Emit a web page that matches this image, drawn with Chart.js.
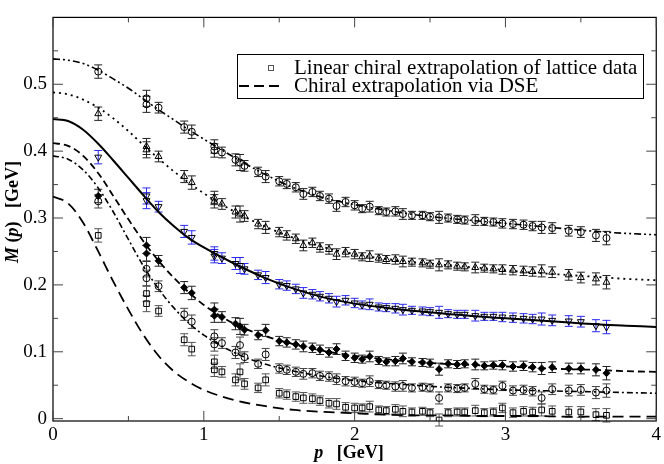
<!DOCTYPE html>
<html>
<head>
<meta charset="utf-8">
<script src="https://cdn.jsdelivr.net/npm/chart.js@4.4.0/dist/chart.umd.min.js"></script>
<style>
  html, body { margin: 0; padding: 0; background: #fff; }
  #wrap { width: 664px; height: 464px; }
</style>
</head>
<body>
<div id="wrap"><canvas id="c" width="664" height="464"></canvas></div>
<script>
// lattice momenta (GeV) shared by all six data sets
const pLat = [0.30, 0.62, 0.62, 0.70, 0.87, 0.92, 1.07, 1.07, 1.12, 1.21,
              1.24, 1.27, 1.36, 1.41, 1.50, 1.55, 1.61, 1.66, 1.72, 1.77,
              1.83, 1.88, 1.94, 2.00, 2.05, 2.10, 2.16, 2.21, 2.27, 2.32,
              2.38, 2.45, 2.50, 2.56, 2.62, 2.68, 2.73, 2.80, 2.86, 2.92,
              2.98, 3.05, 3.12, 3.18, 3.24, 3.31, 3.42, 3.50, 3.60, 3.67];
const errLat = [0.010, 0.012, 0.012, 0.008, 0.009, 0.010, 0.010, 0.010, 0.008, 0.009,
                0.012, 0.008, 0.007, 0.009, 0.007, 0.007, 0.007, 0.008, 0.007, 0.007,
                0.007, 0.008, 0.007, 0.007, 0.006, 0.008, 0.006, 0.006, 0.007, 0.008,
                0.006, 0.006, 0.006, 0.009, 0.006, 0.006, 0.006, 0.008, 0.006, 0.006,
                0.007, 0.007, 0.007, 0.007, 0.009, 0.008, 0.008, 0.008, 0.009, 0.010];

// M(p) lattice points, heaviest mass on top
const latA = [0.519, 0.479, 0.470, 0.465, 0.436, 0.429, 0.407, 0.401, 0.398, 0.387,
              0.383, 0.378, 0.369, 0.362, 0.355, 0.351, 0.346, 0.336, 0.339, 0.333,
              0.329, 0.318, 0.324, 0.319, 0.314, 0.317, 0.311, 0.309, 0.310, 0.306,
              0.304, 0.304, 0.302, 0.301, 0.300, 0.298, 0.297, 0.297, 0.295, 0.294,
              0.292, 0.291, 0.290, 0.288, 0.286, 0.285, 0.281, 0.279, 0.274, 0.270];
const latB = [0.456, 0.407, 0.402, 0.392, 0.362, 0.353, 0.330, 0.325, 0.321, 0.309,
              0.306, 0.303, 0.291, 0.286, 0.279, 0.274, 0.269, 0.259, 0.263, 0.256,
              0.253, 0.246, 0.249, 0.246, 0.242, 0.243, 0.240, 0.238, 0.238, 0.235,
              0.234, 0.233, 0.231, 0.230, 0.230, 0.228, 0.227, 0.226, 0.225, 0.224,
              0.223, 0.222, 0.221, 0.220, 0.221, 0.219, 0.215, 0.211, 0.209, 0.204];
const latC = [0.391, 0.333, 0.326, 0.317, 0.280, 0.271, 0.247, 0.243, 0.240, 0.232,
              0.229, 0.224, 0.215, 0.211, 0.201, 0.199, 0.194, 0.188, 0.186, 0.183,
              0.180, 0.175, 0.177, 0.173, 0.170, 0.171, 0.167, 0.166, 0.165, 0.163,
              0.162, 0.161, 0.160, 0.159, 0.157, 0.156, 0.156, 0.154, 0.153, 0.153,
              0.152, 0.151, 0.150, 0.149, 0.149, 0.147, 0.146, 0.145, 0.139, 0.137];
const latD = [0.333, 0.259, 0.247, 0.236, 0.196, 0.188, 0.163, 0.154, 0.152, 0.142,
              0.138, 0.133, 0.125, 0.132, 0.116, 0.114, 0.111, 0.108, 0.106, 0.103,
              0.099, 0.104, 0.094, 0.091, 0.089, 0.093, 0.087, 0.085, 0.086, 0.090,
              0.085, 0.084, 0.083, 0.074, 0.082, 0.081, 0.082, 0.081, 0.079, 0.080,
              0.080, 0.078, 0.079, 0.077, 0.075, 0.077, 0.075, 0.075, 0.073, 0.068];
const latE = [0.325, 0.224, 0.210, 0.198, 0.156, 0.145, 0.123, 0.111, 0.113, 0.099,
              0.110, 0.092, 0.082, 0.096, 0.075, 0.073, 0.070, 0.067, 0.068, 0.064,
              0.063, 0.059, 0.056, 0.055, 0.053, 0.056, 0.051, 0.050, 0.048, 0.049,
              0.046, 0.047, 0.046, 0.031, 0.046, 0.045, 0.046, 0.052, 0.044, 0.043,
              0.049, 0.042, 0.043, 0.041, 0.031, 0.044, 0.042, 0.043, 0.039, 0.042];
const latF = [0.274, 0.187, 0.172, 0.161, 0.118, 0.104, 0.085, 0.073, 0.070, 0.058,
              0.070, 0.052, 0.046, 0.058, 0.038, 0.036, 0.033, 0.031, 0.030, 0.027,
              0.023, 0.022, 0.017, 0.016, 0.016, 0.018, 0.013, 0.012, 0.014, 0.011,
              0.010, 0.011, 0.009, -0.002, 0.009, 0.010, 0.010, 0.012, 0.009, 0.010,
              0.016, 0.009, 0.011, 0.010, 0.013, 0.011, 0.010, 0.010, 0.006, 0.005];

// DSE curves
const pCurve = [0, 0.1, 0.2, 0.3, 0.4, 0.5, 0.6, 0.7, 0.8, 0.9, 1.0, 1.2, 1.4,
                1.6, 1.8, 2.0, 2.2, 2.4, 2.6, 2.8, 3.0, 3.2, 3.4, 3.6, 3.8, 4.0];
const dseA = [0.538, 0.536, 0.531, 0.521, 0.508, 0.494, 0.478, 0.462, 0.447, 0.432, 0.418, 0.391, 0.366,
              0.345, 0.330, 0.320, 0.312, 0.305, 0.300, 0.296, 0.292, 0.288, 0.284, 0.280, 0.277, 0.275];
const dseB = [0.488, 0.485, 0.477, 0.465, 0.449, 0.430, 0.409, 0.389, 0.370, 0.353, 0.337, 0.310, 0.288,
              0.270, 0.256, 0.246, 0.239, 0.234, 0.230, 0.226, 0.222, 0.218, 0.215, 0.212, 0.209, 0.207];
const dseC = [0.448, 0.445, 0.432, 0.411, 0.386, 0.360, 0.334, 0.309, 0.288, 0.270, 0.256, 0.232, 0.211,
              0.194, 0.181, 0.172, 0.166, 0.161, 0.157, 0.153, 0.150, 0.147, 0.144, 0.141, 0.139, 0.137];
const dseD = [0.412, 0.408, 0.393, 0.367, 0.333, 0.298, 0.265, 0.236, 0.211, 0.189, 0.170, 0.142, 0.124,
              0.111, 0.101, 0.094, 0.089, 0.085, 0.082, 0.080, 0.078, 0.076, 0.074, 0.073, 0.071, 0.070];
const dseE = [0.393, 0.388, 0.372, 0.345, 0.309, 0.268, 0.228, 0.194, 0.166, 0.143, 0.125, 0.099, 0.082,
              0.071, 0.063, 0.057, 0.053, 0.050, 0.047, 0.045, 0.043, 0.042, 0.041, 0.040, 0.039, 0.038];
const dseF = [0.332, 0.322, 0.293, 0.250, 0.205, 0.163, 0.125, 0.094, 0.071, 0.055, 0.043, 0.028, 0.019,
              0.013, 0.010, 0.008, 0.006, 0.005, 0.005, 0.004, 0.004, 0.004, 0.003, 0.003, 0.003, 0.003];

// axis ticks
const xMajor = [0, 1, 2, 3, 4];
const xMinor = [0.5, 1.5, 2.5, 3.5];
const yMajor = [0, 0.1, 0.2, 0.3, 0.4, 0.5];
const yMinor = [0.05, 0.15, 0.25, 0.35, 0.45, 0.55];

const legendTexts = ["Linear chiral extrapolation of lattice data", "Chiral extrapolation via DSE"];

const SERIF = '"Liberation Serif", "Times New Roman", serif';

const markerSet = (vals, style, rot, fill, radius, errColor) => ({
    type: 'scatter',
    data: pLat.map((p, i) => ({ x: p, y: vals[i] })),
    errs: errLat,
    errColor: errColor,
    pointStyle: style,
    rotation: rot,
    pointRadius: radius,
    borderColor: '#000',
    backgroundColor: fill,
    borderWidth: 1,
    showLine: false
});

const curveSet = (vals, dash, width) => ({
    type: 'line',
    data: pCurve.map((p, i) => ({ x: p, y: vals[i] })),
    borderColor: '#000',
    borderWidth: width,
    borderDash: dash,
    pointRadius: 0,
    fill: false,
    cubicInterpolationMode: 'monotone'
});

// error bars, drawn under the markers
const errorBars = {
    id: 'errorBars',
    beforeDatasetsDraw(chart) {
        const { ctx, scales: { y } } = chart;
        chart.data.datasets.forEach((ds, i) => {
            if (!ds.errs) return;
            const meta = chart.getDatasetMeta(i);
            ctx.save();
            ctx.strokeStyle = ds.errColor;
            ctx.lineWidth = 1;
            meta.data.forEach((pt, j) => {
                const v = ds.data[j].y, e = ds.errs[j];
                const y1 = y.getPixelForValue(v - e), y2 = y.getPixelForValue(v + e);
                ctx.beginPath();
                ctx.moveTo(pt.x, y1); ctx.lineTo(pt.x, y2);
                ctx.moveTo(pt.x - 4, y1); ctx.lineTo(pt.x + 4, y1);
                ctx.moveTo(pt.x - 4, y2); ctx.lineTo(pt.x + 4, y2);
                ctx.stroke();
            });
            ctx.restore();
        });
    }
};

// frame with inward ticks on all four sides, legend box, axis titles
const decorations = {
    id: 'decorations',
    afterDraw(chart) {
        const { ctx, chartArea: a, scales: { x, y } } = chart;
        ctx.save();
        ctx.strokeStyle = '#000';
        ctx.lineWidth = 1.2;
        ctx.strokeRect(a.left, a.top, a.right - a.left, a.bottom - a.top);

        ctx.lineWidth = 1;
        ctx.strokeStyle = '#444';
        const xt = (v, len) => {
            const px = x.getPixelForValue(v);
            ctx.beginPath();
            ctx.moveTo(px, a.bottom); ctx.lineTo(px, a.bottom - len);
            ctx.moveTo(px, a.top); ctx.lineTo(px, a.top + len);
            ctx.stroke();
        };
        const yt = (v, len) => {
            const py = y.getPixelForValue(v);
            ctx.beginPath();
            ctx.moveTo(a.left, py); ctx.lineTo(a.left + len, py);
            ctx.moveTo(a.right, py); ctx.lineTo(a.right - len, py);
            ctx.stroke();
        };
        xMajor.forEach(v => xt(v, 10));
        xMinor.forEach(v => xt(v, 5));
        yMajor.forEach(v => yt(v, 10));
        yMinor.forEach(v => yt(v, 5));

        // legend
        ctx.strokeStyle = '#000';
        ctx.lineWidth = 1;
        ctx.strokeRect(237.5, 54.5, 406, 44);
        ctx.fillStyle = '#000';
        ctx.font = '21px ' + SERIF;
        ctx.textBaseline = 'middle';
        ctx.textAlign = 'left';
        ctx.fillText(legendTexts[0], 294, 68);
        ctx.fillText(legendTexts[1], 294, 86);
        ctx.strokeStyle = '#555';
        ctx.strokeRect(268.5, 65.5, 5, 5);
        ctx.strokeStyle = '#000';
        ctx.lineWidth = 1.8;
        ctx.setLineDash([10, 5]);
        ctx.beginPath();
        ctx.moveTo(239, 86); ctx.lineTo(284, 86);
        ctx.stroke();
        ctx.setLineDash([]);

        // axis titles
        const runs = (parts) => parts.reduce((w, [t, f]) => { ctx.font = f; return w + ctx.measureText(t).width; }, 0);
        const draw = (parts, x0, y0) => {
            let cx = x0;
            parts.forEach(([t, f]) => { ctx.font = f; ctx.fillText(t, cx, y0); cx += ctx.measureText(t).width; });
        };
        ctx.textBaseline = 'alphabetic';
        const bi = 'italic bold 18px ' + SERIF, b = 'bold 18px ' + SERIF;
        const xTitle = [['p', bi], ['   [GeV]', b]];
        draw(xTitle, 349 - runs(xTitle) / 2, 458);
        const yTitle = [['M', bi], [' (', b], ['p', bi], [')   [GeV]', b]];
        ctx.translate(18, 212);
        ctx.rotate(-Math.PI / 2);
        draw(yTitle, -runs(yTitle) / 2, 0);
        ctx.restore();
    }
};

new Chart(document.getElementById('c'), {
    type: 'scatter',
    data: {
        datasets: [
            curveSet(dseA, [7, 3, 2, 3, 2, 3], 1.6),
            curveSet(dseB, [2, 4], 1.8),
            curveSet(dseC, [], 2),
            curveSet(dseD, [7, 4], 1.8),
            curveSet(dseE, [6, 3, 2, 3], 1.6),
            curveSet(dseF, [11, 6], 1.8),
            markerSet(latA, 'circle', 0, 'rgba(0,0,0,0)', 3.5, '#222'),
            markerSet(latB, 'triangle', 0, 'rgba(0,0,0,0)', 4, '#222'),
            markerSet(latC, 'triangle', 180, 'rgba(0,0,0,0)', 4, '#2a2af0'),
            markerSet(latD, 'rectRot', 0, '#000', 3.5, '#222'),
            markerSet(latE, 'circle', 0, 'rgba(0,0,0,0)', 3.5, '#444'),
            markerSet(latF, 'rect', 0, 'rgba(0,0,0,0)', 4, '#555')
        ]
    },
    options: {
        responsive: false,
        animation: false,
        layout: { padding: { top: 2, right: 5, left: 0, bottom: 0 } },
        plugins: { legend: { display: false }, tooltip: { enabled: false } },
        scales: {
            x: {
                type: 'linear', min: 0, max: 4,
                grid: { display: false, drawTicks: false },
                border: { display: false },
                ticks: { stepSize: 1, color: '#000', padding: 3, autoSkip: false, maxRotation: 0,
                         font: { family: SERIF, size: 19 } },
                afterBuildTicks: (s) => { s.ticks = xMajor.map(v => ({ value: v })); },
                afterFit: (s) => { s.height = 43; }
            },
            y: {
                type: 'linear', min: -0.0035, max: 0.6,
                grid: { display: false, drawTicks: false },
                border: { display: false },
                ticks: { color: '#000', padding: 6, autoSkip: false,
                         font: { family: SERIF, size: 19 },
                         callback: (v) => v === 0 ? '0' : v.toFixed(1) },
                afterBuildTicks: (s) => { s.ticks = yMajor.map(v => ({ value: v })); },
                afterFit: (s) => { s.width = 53; }
            }
        }
    },
    plugins: [errorBars, decorations]
});
</script>
</body>
</html>
